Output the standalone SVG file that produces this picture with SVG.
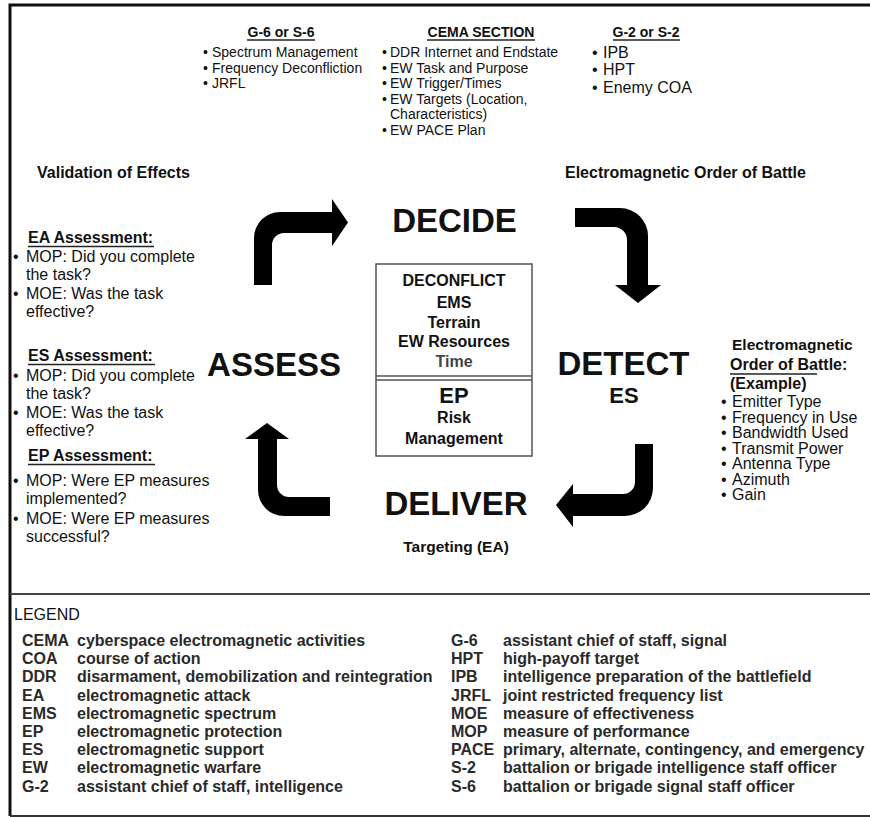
<svg xmlns="http://www.w3.org/2000/svg" width="870" height="817" viewBox="0 0 870 817">
<style>
text{font-family:"Liberation Sans",Arial,sans-serif;fill:#111}
.b{font-weight:bold}
.big{font-size:33px;font-weight:bold;text-anchor:middle}
.h{font-size:14px;font-weight:bold;text-anchor:middle}
.t14{font-size:14px}
.t16{font-size:16px}
.h16{font-size:16px;font-weight:bold}
.c{text-anchor:middle}
.ul{stroke:#222;stroke-width:1.3}
.leg{font-size:16px;font-weight:bold;fill:#2a2a2a}
.arrow{fill:#000}
</style>
<rect x="0" y="0" width="870" height="817" fill="#fff"/>
<g id="frame">
<path d="M10,816 V5 H872" fill="none" stroke="#111" stroke-width="3"/>
<line x1="10" y1="594" x2="872" y2="594" stroke="#444" stroke-width="2"/>
<line x1="10" y1="816" x2="872" y2="816" stroke="#333" stroke-width="2"/>
</g>
<g id="g6">
<text class="h" x="281" y="37">G-6 or S-6</text>
<line class="ul" x1="247" y1="40" x2="315" y2="40"/>
<text class="t14"><tspan x="203" y="57">•</tspan><tspan x="212">Spectrum Management</tspan><tspan x="203" y="72.5">•</tspan><tspan x="212">Frequency Deconfliction</tspan><tspan x="203" y="88">•</tspan><tspan x="212">JRFL</tspan></text>
</g>
<g id="cema">
<text class="h" x="481" y="37">CEMA SECTION</text>
<line class="ul" x1="427" y1="40" x2="535" y2="40"/>
<text class="t14"><tspan x="382" y="57">•</tspan><tspan x="390">DDR Internet and Endstate</tspan><tspan x="382" y="72.5">•</tspan><tspan x="390">EW Task and Purpose</tspan><tspan x="382" y="88">•</tspan><tspan x="390">EW Trigger/Times</tspan><tspan x="382" y="103.5">•</tspan><tspan x="390">EW Targets (Location,</tspan><tspan x="390" y="119">Characteristics)</tspan><tspan x="382" y="135">•</tspan><tspan x="390">EW PACE Plan</tspan></text>
</g>
<g id="g2">
<text class="h" x="646" y="37">G-2 or S-2</text>
<line class="ul" x1="613" y1="40" x2="680" y2="40"/>
<text class="t16"><tspan x="592" y="58">•</tspan><tspan x="603">IPB</tspan><tspan x="592" y="75">•</tspan><tspan x="603">HPT</tspan><tspan x="592" y="93">•</tspan><tspan x="603">Enemy COA</tspan></text>
</g>
<g id="validation">
<text class="h16" x="37" y="178">Validation of Effects</text>
</g>
<g id="eob-label">
<text class="h16" x="565" y="178">Electromagnetic Order of Battle</text>
</g>
<g id="ea-assessment">
<text class="h16" x="28" y="243">EA Assessment:</text>
<line class="ul" x1="28" y1="246.5" x2="154" y2="246.5"/>
<text class="t16"><tspan x="13" y="262">•</tspan><tspan x="26">MOP: Did you complete</tspan><tspan x="26" y="280">the task?</tspan><tspan x="13" y="299">•</tspan><tspan x="26">MOE: Was the task</tspan><tspan x="26" y="317">effective?</tspan></text>
</g>
<g id="es-assessment">
<text class="h16" x="28" y="361">ES Assessment:</text>
<line class="ul" x1="28" y1="364.5" x2="155" y2="364.5"/>
<text class="t16"><tspan x="13" y="381">•</tspan><tspan x="26">MOP: Did you complete</tspan><tspan x="26" y="399">the task?</tspan><tspan x="13" y="418">•</tspan><tspan x="26">MOE: Was the task</tspan><tspan x="26" y="436">effective?</tspan></text>
</g>
<g id="ep-assessment">
<text class="h16" x="28" y="461">EP Assessment:</text>
<line class="ul" x1="28" y1="464.5" x2="155" y2="464.5"/>
<text class="t16"><tspan x="13" y="486">•</tspan><tspan x="26">MOP: Were EP measures</tspan><tspan x="26" y="504">implemented?</tspan><tspan x="13" y="524">•</tspan><tspan x="26">MOE: Were EP measures</tspan><tspan x="26" y="542">successful?</tspan></text>
</g>
<g id="decide"><text class="big" x="454.5" y="232">DECIDE</text></g>
<g id="detect"><text class="big" x="623.5" y="375">DETECT</text>
<text class="b c" x="624" y="403" font-size="22">ES</text></g>
<g id="deliver"><text class="big" x="456" y="515">DELIVER</text>
<text class="b c" x="456" y="552" font-size="15.5">Targeting (EA)</text></g>
<g id="assess"><text class="big" x="274" y="376">ASSESS</text></g>
<g id="center-box">
<rect x="376" y="264" width="156" height="192" fill="none" stroke="#555" stroke-width="1.5"/>
<line x1="376" y1="376" x2="532" y2="376" stroke="#555" stroke-width="1.3"/>
<line x1="376" y1="380" x2="532" y2="380" stroke="#555" stroke-width="1.3"/>
<text class="h16 c"><tspan x="454" y="286">DECONFLICT</tspan><tspan x="454" y="308">EMS</tspan><tspan x="454" y="328">Terrain</tspan><tspan x="454" y="347">EW Resources</tspan><tspan x="454" y="367" style="fill:#444">Time</tspan></text>
<text class="b c" x="454" y="403" font-size="22">EP</text>
<text class="h16 c"><tspan x="454" y="423">Risk</tspan><tspan x="454" y="444">Management</tspan></text>
</g>
<g id="eob-example">
<text class="b"><tspan x="732" y="350" font-size="15.5">Electromagnetic</tspan><tspan x="730" y="370" font-size="16">Order of Battle:</tspan><tspan x="730" y="389" font-size="16">(Example)</tspan></text>
<line class="ul" x1="730" y1="374" x2="817" y2="374"/>
<text class="t16"><tspan x="721" y="407">•</tspan><tspan x="732">Emitter Type</tspan><tspan x="721" y="422.5">•</tspan><tspan x="732">Frequency in Use</tspan><tspan x="721" y="438">•</tspan><tspan x="732">Bandwidth Used</tspan><tspan x="721" y="453.5">•</tspan><tspan x="732">Transmit Power</tspan><tspan x="721" y="469">•</tspan><tspan x="732">Antenna Type</tspan><tspan x="721" y="484.5">•</tspan><tspan x="732">Azimuth</tspan><tspan x="721" y="500">•</tspan><tspan x="732">Gain</tspan></text>
</g>
<g id="connectors">
<path class="arrow" d="M254,285 V238 A26,26 0 0 1 280,212 H332 V199 L348,222.5 L332,246 V233 H284 A12,12 0 0 0 272,245 V285 Z"/>
<path class="arrow" d="M575,208 H620 A28,28 0 0 1 648,236 V285 H661 L638,303 L615,285 H627 V240 A13,13 0 0 0 614,227 H575 Z"/>
<path class="arrow" d="M635,444 H653 V488 A28,28 0 0 1 625,516 H573 V527 L556,505 L573,484 V494 H623 A12,12 0 0 0 635,482 Z"/>
<path class="arrow" d="M330,497 V516 H284 A26,26 0 0 1 258,490 V439 H245 L267,423 L289,439 H277 V485 A12,12 0 0 0 289,497 Z"/>
</g>
<g id="legend">
<text class="t16" x="14" y="620">LEGEND</text>
<text class="leg" x="22" y="646">CEMA</text><text class="leg" x="77" y="646">cyberspace electromagnetic activities</text>
<text class="leg" x="22" y="664.2">COA</text><text class="leg" x="77" y="664.2">course of action</text>
<text class="leg" x="22" y="682.4">DDR</text><text class="leg" x="77" y="682.4">disarmament, demobilization and reintegration</text>
<text class="leg" x="22" y="700.6">EA</text><text class="leg" x="77" y="700.6">electromagnetic attack</text>
<text class="leg" x="22" y="718.8">EMS</text><text class="leg" x="77" y="718.8">electromagnetic spectrum</text>
<text class="leg" x="22" y="737">EP</text><text class="leg" x="77" y="737">electromagnetic protection</text>
<text class="leg" x="22" y="755.2">ES</text><text class="leg" x="77" y="755.2">electromagnetic support</text>
<text class="leg" x="22" y="773.4">EW</text><text class="leg" x="77" y="773.4">electromagnetic warfare</text>
<text class="leg" x="22" y="791.6">G-2</text><text class="leg" x="77" y="791.6">assistant chief of staff, intelligence</text>
<text class="leg" x="451" y="646">G-6</text><text class="leg" x="503" y="646">assistant chief of staff, signal</text>
<text class="leg" x="451" y="664.2">HPT</text><text class="leg" x="503" y="664.2">high-payoff target</text>
<text class="leg" x="451" y="682.4">IPB</text><text class="leg" x="503" y="682.4">intelligence preparation of the battlefield</text>
<text class="leg" x="451" y="700.6">JRFL</text><text class="leg" x="503" y="700.6">joint restricted frequency list</text>
<text class="leg" x="451" y="718.8">MOE</text><text class="leg" x="503" y="718.8">measure of effectiveness</text>
<text class="leg" x="451" y="737">MOP</text><text class="leg" x="503" y="737">measure of performance</text>
<text class="leg" x="451" y="755.2">PACE</text><text class="leg" x="503" y="755.2">primary, alternate, contingency, and emergency</text>
<text class="leg" x="451" y="773.4">S-2</text><text class="leg" x="503" y="773.4">battalion or brigade intelligence staff officer</text>
<text class="leg" x="451" y="791.6">S-6</text><text class="leg" x="503" y="791.6">battalion or brigade signal staff officer</text>
</g>
</svg>
